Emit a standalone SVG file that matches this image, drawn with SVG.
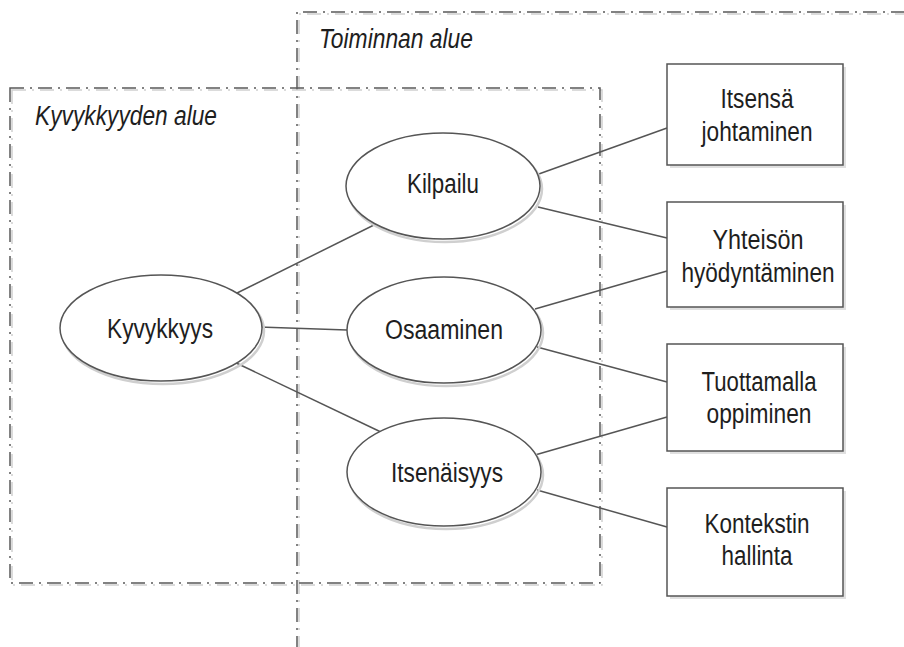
<svg xmlns="http://www.w3.org/2000/svg" width="904" height="647" viewBox="0 0 904 647">
<style>
.bg{fill:#ffffff}
.zone{fill:none;stroke:#5a5a5a;stroke-width:1.5;stroke-dasharray:14,6,2,6}
.zoneSh{fill:none;stroke:#d0d0d0;stroke-width:1.5;stroke-dasharray:14,6,2,6}
.zlabel{font-family:"Liberation Sans Narrow","Liberation Sans",Arial,sans-serif;font-style:italic;font-size:27px;fill:#1e1e1e}
.ell{fill:#ffffff;stroke:#555;stroke-width:1.5}
.ellSh{fill:none;stroke:#cfcfcf;stroke-width:2.5}
.box{fill:#ffffff;stroke:#555;stroke-width:1.5}
.boxSh{fill:#e0e0e0;stroke:none}
.lbl{font-family:"Liberation Sans Narrow","Liberation Sans",Arial,sans-serif;font-size:27px;fill:#1e1e1e;text-anchor:middle}
.conn line{stroke:#555;stroke-width:1.5}
</style>
<rect class="bg" x="0" y="0" width="904" height="647"/>

<g id="zone-toiminnan">
  <path class="zoneSh" d="M299,650 L299,14 L906,14"/>
  <path class="zone" d="M297,650 L297,12 L906,12"/>
  <text class="zlabel" x="319" y="48" textLength="154" lengthAdjust="spacingAndGlyphs">Toiminnan alue</text>
</g>
<g id="zone-kyvykkyyden">
  <rect class="zoneSh" x="12" y="90" width="590" height="495"/>
  <rect class="zone" x="10" y="88" width="590" height="495"/>
  <text class="zlabel" x="35" y="125" textLength="182" lengthAdjust="spacingAndGlyphs">Kyvykkyyden alue</text>
</g>

<g id="connectors" class="conn">
  <line x1="233" y1="295" x2="380" y2="222"/>
  <line x1="259" y1="327" x2="347" y2="330"/>
  <line x1="232" y1="361" x2="383" y2="433"/>
  <line x1="536" y1="175" x2="667" y2="128"/>
  <line x1="538" y1="207" x2="667" y2="238"/>
  <line x1="535" y1="309" x2="667" y2="271"/>
  <line x1="537" y1="347" x2="667" y2="382"/>
  <line x1="535" y1="455" x2="667" y2="417"/>
  <line x1="537" y1="490" x2="667" y2="527"/>
</g>

<g id="node-kyvykkyys">
  <ellipse class="ellSh" cx="163" cy="331" rx="101" ry="53"/>
  <ellipse class="ell" cx="161" cy="328" rx="101" ry="53"/>
  <text class="lbl" x="160" y="338" textLength="106" lengthAdjust="spacingAndGlyphs">Kyvykkyys</text>
</g>
<g id="node-kilpailu">
  <ellipse class="ellSh" cx="445" cy="189" rx="97" ry="53"/>
  <ellipse class="ell" cx="443" cy="186" rx="97" ry="53"/>
  <text class="lbl" x="443" y="193" textLength="72" lengthAdjust="spacingAndGlyphs">Kilpailu</text>
</g>
<g id="node-osaaminen">
  <ellipse class="ellSh" cx="446" cy="333" rx="97" ry="53"/>
  <ellipse class="ell" cx="444" cy="330" rx="97" ry="53"/>
  <text class="lbl" x="444" y="339" textLength="118" lengthAdjust="spacingAndGlyphs">Osaaminen</text>
</g>
<g id="node-itsenaisyys">
  <ellipse class="ellSh" cx="446" cy="475" rx="97" ry="54"/>
  <ellipse class="ell" cx="444" cy="472" rx="97" ry="54"/>
  <text class="lbl" x="447" y="482" textLength="112" lengthAdjust="spacingAndGlyphs">Itsenäisyys</text>
</g>

<g id="node-itsensa">
  <rect class="boxSh" x="670" y="67" width="176" height="101"/>
  <rect class="box" x="667" y="64" width="176" height="101"/>
  <text class="lbl" x="757" y="108" textLength="73" lengthAdjust="spacingAndGlyphs">Itsensä</text>
  <text class="lbl" x="757" y="141" textLength="111" lengthAdjust="spacingAndGlyphs">johtaminen</text>
</g>
<g id="node-yhteison">
  <rect class="boxSh" x="670" y="205" width="176" height="105"/>
  <rect class="box" x="667" y="202" width="176" height="105"/>
  <text class="lbl" x="758" y="249" textLength="91" lengthAdjust="spacingAndGlyphs">Yhteisön</text>
  <text class="lbl" x="758" y="282" textLength="153" lengthAdjust="spacingAndGlyphs">hyödyntäminen</text>
</g>
<g id="node-tuottamalla">
  <rect class="boxSh" x="670" y="347" width="176" height="107"/>
  <rect class="box" x="667" y="344" width="176" height="107"/>
  <text class="lbl" x="759" y="391" textLength="115" lengthAdjust="spacingAndGlyphs">Tuottamalla</text>
  <text class="lbl" x="759" y="423" textLength="105" lengthAdjust="spacingAndGlyphs">oppiminen</text>
</g>
<g id="node-kontekstin">
  <rect class="boxSh" x="670" y="491" width="176" height="108"/>
  <rect class="box" x="667" y="488" width="176" height="108"/>
  <text class="lbl" x="757" y="533" textLength="105" lengthAdjust="spacingAndGlyphs">Kontekstin</text>
  <text class="lbl" x="757" y="565" textLength="71" lengthAdjust="spacingAndGlyphs">hallinta</text>
</g>
</svg>
